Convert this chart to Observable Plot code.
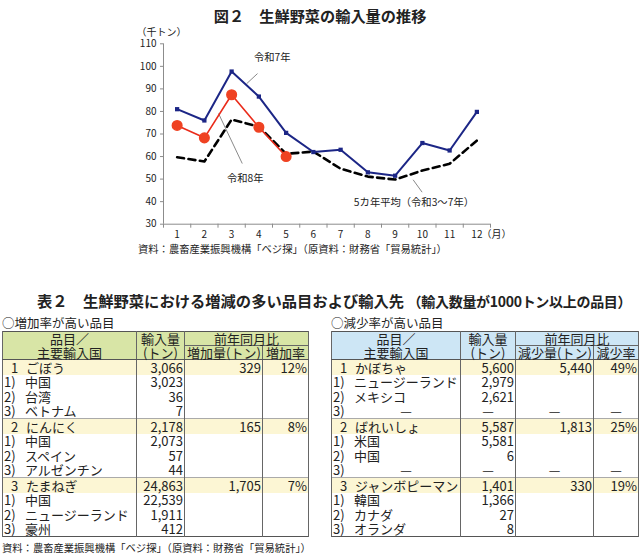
<!DOCTYPE html>
<html lang="ja">
<head>
<meta charset="utf-8">
<script src="https://cdn.jsdelivr.net/npm/d3@7"></script>
<script src="https://cdn.jsdelivr.net/npm/@observablehq/plot@0.6"></script>
<style>
  html, body { margin: 0; padding: 0; background: #fff; }
  body { width: 640px; height: 556px; position: relative; overflow: hidden;
         font-family: "Noto Sans CJK JP", sans-serif; color: #222; }
  .abs { position: absolute; white-space: nowrap; }
  #title { left: 0; width: 640px; top: 5px; text-align: center; font-size: 15.2px; font-weight: bold; line-height: 20px; }
  #chart { left: 0; top: 24px; }
  .src { font-size: 10.3px; line-height: 14px; }
  #src1 { left: 138px; top: 242px; }
  #src2 { left: 2px; top: 541px; }
  #ttitle { left: 37px; top: 290px; font-size: 15.3px; font-weight: bold; line-height: 20px; }
  #ttitle small { font-size: 14px; font-weight: bold; letter-spacing: -0.3px; }
  .sub { font-size: 12.5px; line-height: 16px; top: 315px; }
  #subL { left: 2px; }
  #subR { left: 331px; }
  table { position: absolute; top: 331px; border-collapse: collapse; table-layout: fixed;
          font-size: 13px; line-height: 13px; border: 1px solid #555; }
  td { padding: 0 2px; border-left: 1px solid #666; border-right: 1px solid #666; white-space: nowrap; }
  tr.h td { text-align: center; height: 13px; }
  tr.h1 td.top { border-bottom: none; }
  tr.h1 td.span { border-bottom: 1px solid #666; }
  tr.h2 td { border-bottom: 1px solid #555; }
  tr.d td { height: 14.5px; }
  tr.grp td { background: #fcf6d4; }
  tr.grp.sep td { border-top: 1px solid #aaa; }
  td.num { text-align: right; padding-right: 1px; }
  td.dash { text-align: center; }
  span.no { display: inline-block; width: 21px; box-sizing: border-box; padding-left: 6px; }
  span.no2 { display: inline-block; width: 21px; margin-left: -1px; }
  span.nil { display: inline-block; text-align: center; }
</style>
</head>
<body>
<div id="title" class="abs">図２　生鮮野菜の輸入量の推移</div>
<div id="chart" class="abs"></div>
<div id="src1" class="abs src">資料：農畜産業振興機構「ベジ探」（原資料：財務省「貿易統計」）</div>
<div id="ttitle" class="abs">表２　生鮮野菜における増減の多い品目および輸入先 <small>（輸入数量が1000トン以上の品目）</small></div>
<div id="subL" class="abs sub">○増加率が高い品目</div>
<div id="subR" class="abs sub">○減少率が高い品目</div>
<div id="tables"></div>
<div id="src2" class="abs src">資料：農畜産業振興機構「ベジ探」（原資料：財務省「貿易統計」）</div>

<script>
// Monthly fresh-vegetable imports (thousand tonnes)
const months = [1, 2, 3, 4, 5, 6, 7, 8, 9, 10, 11, 12];
const reiwa7 = [81, 76, 97.7, 86.6, 70.5, 62, 63, 53, 51.5, 66, 62.7, 79.8];
const reiwa8 = [73.8, 68.3, 87.4, 73, 60];
const avg5yr = [59.7, 57.8, 76.4, 73.3, 61.2, 62.2, 54.6, 51.1, 49.8, 53.8, 56.8, 67.1];

const yTicks = [30, 40, 50, 60, 70, 80, 90, 100, 110];
const monthBounds = [0.5, 1.5, 2.5, 3.5, 4.5, 5.5, 6.5, 7.5, 8.5, 9.5, 10.5, 11.5, 12.5];

// Series call-outs: label position and leader line, in month / value units
const noteText = ["令和7年", "令和8年", "5カ年平均（令和3～7年）"];
const noteX = [4.49, 3.5, 9.69];
const noteY = [103.8, 50.1, 39.6];
const leadX1 = [3.55, 2.52, 9.66];
const leadY1 = [92.3, 79.1, 49.7];
const leadX2 = [3.95, 3.39, 9.99];
const leadY2 = [96.8, 56.9, 44.2];

// Table 2: items with the largest increase / decrease and their main sources
const incItems = ["ごぼう", "にんにく", "たまねぎ"];
const incTotals = [3066, 2178, 24863];
const incChange = [329, 165, 1705];
const incRate = [12, 8, 7];
const incCountries = [["中国", "台湾", "ベトナム"], ["中国", "スペイン", "アルゼンチン"], ["中国", "ニュージーランド", "豪州"]];
const incVolumes = [[3023, 36, 7], [2073, 57, 44], [22539, 1911, 412]];

const decItems = ["かぼちゃ", "ばれいしょ", "ジャンボピーマン"];
const decTotals = [5600, 5587, 1401];
const decChange = [5440, 1813, 330];
const decRate = [49, 25, 19];
const decCountries = [["ニュージーランド", "メキシコ", null], ["米国", "中国", null], ["韓国", "カナダ", "オランダ"]];
const decVolumes = [[2979, 2621, null], [5581, 6, null], [1366, 27, 8]];

const series = (name, values) => values.map((v, i) => ({series: name, month: months[i], value: v}));
const r7 = series("令和7年", reiwa7);
const r8 = series("令和8年", reiwa8);
const av = series("5カ年平均", avg5yr);
const notes = noteText.map((t, i) => ({t, x: noteX[i], y: noteY[i], x1: leadX1[i], y1: leadY1[i], x2: leadX2[i], y2: leadY2[i]}));

const chart = Plot.plot({
  width: 640,
  height: 220,
  marginLeft: 163,
  marginRight: 150,
  marginTop: 19.3,
  marginBottom: 20.3,
  style: {fontFamily: "'Noto Sans CJK JP', sans-serif", fontSize: "10px", color: "#222", background: "transparent"},
  x: {type: "linear", domain: [0.5, 12.5]},
  y: {domain: [30, 110]},
  marks: [
    Plot.ruleY([30], {stroke: "#8c8c8c"}),
    Plot.ruleX([0.5], {stroke: "#8c8c8c"}),
    Plot.axisY({ticks: yTicks, tickSize: 3, tickPadding: 4, stroke: "#8c8c8c", label: null}),
    Plot.axisX({ticks: monthBounds, tickSize: 4, tickFormat: () => "", stroke: "#8c8c8c", label: null}),
    Plot.axisX({ticks: months, tickSize: 0, tickPadding: 7, label: null}),
    Plot.text(["（月）"], {x: 12.5, y: 30, text: d => d, textAnchor: "start", dx: -9, dy: 11, fontSize: 10}),
    Plot.text(["（千トン）"], {frameAnchor: "top-left", text: d => d, textAnchor: "start", dx: -27, dy: -15, fontSize: 10}),
    // leader lines and labels
    Plot.link(notes, {x1: "x1", y1: "y1", x2: "x2", y2: "y2", stroke: "#8a8a8a", strokeWidth: 1}),
    Plot.text(notes, {x: "x", y: "y", text: "t", fontSize: 10.3, fill: "#222"}),
    // five-year average
    Plot.line(av, {x: "month", y: "value", stroke: "#000", strokeWidth: 2.6, strokeDasharray: "7,4.5"}),
    // Reiwa 7
    Plot.line(r7, {x: "month", y: "value", stroke: "#1c2686", strokeWidth: 2}),
    Plot.dot(r7, {x: "month", y: "value", symbol: "square", r: 2.4, fill: "#1c2686"}),
    // Reiwa 8
    Plot.line(r8, {x: "month", y: "value", stroke: "#ea2b1a", strokeWidth: 1.6}),
    Plot.dot(r8, {x: "month", y: "value", r: 4.8, fill: "#ef4222", stroke: "#ef4222"})
  ]
});
document.getElementById("chart").appendChild(chart);

// Tables
const fmt = d3.format(",");
function buildTable(left, widths, headColor, changeLabel, rateLabel, items, totals, change, rate, countries, volumes) {
  const t = document.createElement("table");
  t.style.left = left + "px";
  t.style.width = d3.sum(widths) + "px";
  let html = "<colgroup>" + widths.map(w => `<col style="width:${w}px">`).join("") + "</colgroup>";
  html += `<tr class="h h1" style="background:${headColor}"><td class="top">品目／</td><td class="top">輸入量</td><td class="span" colspan="2">前年同月比</td></tr>`;
  html += `<tr class="h h2" style="background:${headColor}"><td>主要輸入国</td><td>(トン)</td><td>${changeLabel}</td><td>${rateLabel}</td></tr>`;
  const nilWidth = widths[0] - 4 - 21;
  items.forEach((item, i) => {
    html += `<tr class="d grp${i ? " sep" : ""}"><td><span class="no">${i + 1}</span>${item}</td><td class="num">${fmt(totals[i])}</td><td class="num">${fmt(change[i])}</td><td class="num">${rate[i]}%</td></tr>`;
    countries[i].forEach((c, j) => {
      const v = volumes[i][j];
      if (c == null) {
        html += `<tr class="d"><td><span class="no2">${j + 1})</span><span class="nil" style="width:${nilWidth}px">—</span></td><td class="dash">—</td><td class="dash">—</td><td class="dash">—</td></tr>`;
      } else {
        html += `<tr class="d"><td><span class="no2">${j + 1})</span>${c}</td><td class="num">${fmt(v)}</td><td></td><td></td></tr>`;
      }
    });
  });
  t.innerHTML = html;
  document.getElementById("tables").appendChild(t);
}
buildTable(2, [134, 48, 78, 46], "#d8e5a6", "増加量(トン)", "増加率",
  incItems, incTotals, incChange, incRate, incCountries, incVolumes);
buildTable(331, [129, 55, 78, 45], "#cde6f5", "減少量(トン)", "減少率",
  decItems, decTotals, decChange, decRate, decCountries, decVolumes);
</script>
</body>
</html>
